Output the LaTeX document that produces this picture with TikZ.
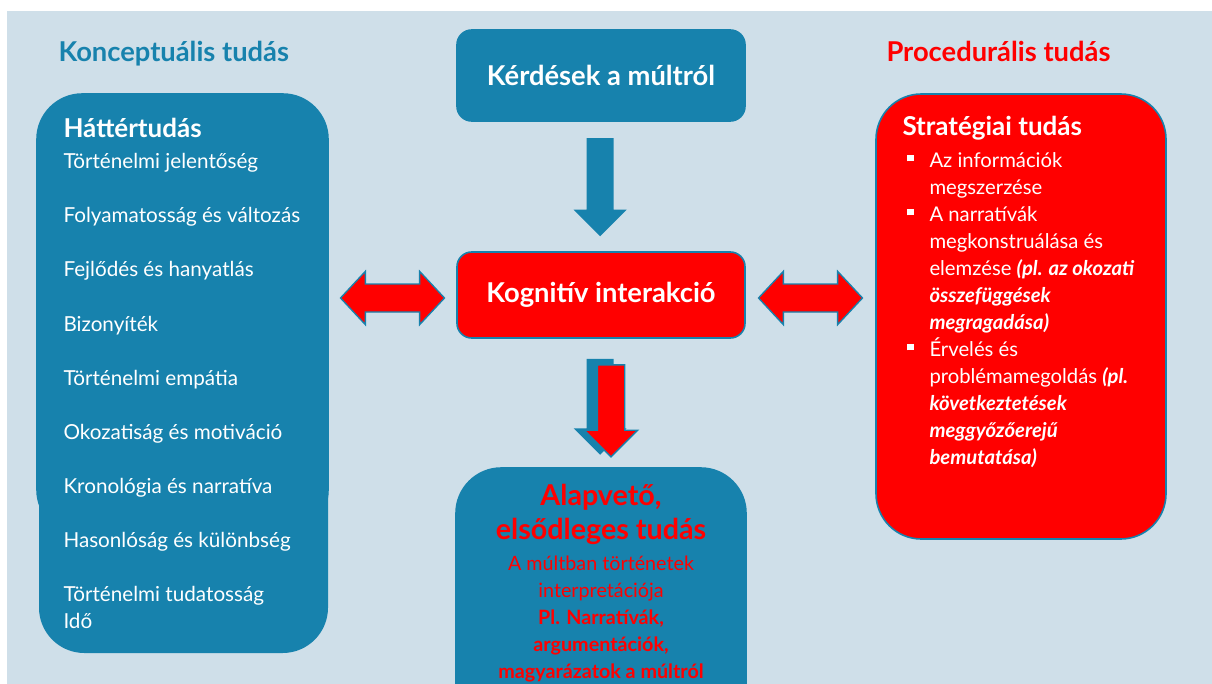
\documentclass[tikz,border=0pt]{standalone}
\usepackage{fontspec}
\setmainfont{Lato}
\usetikzlibrary{positioning,calc,shapes.arrows}
\definecolor{panelblue}{RGB}{207,223,233}
\definecolor{boxblue}{RGB}{23,130,173}
\definecolor{hotred}{RGB}{255,0,0}
\tikzset{every picture/.style={line width=0.75pt}}
\tikzset{
  txt/.style={inner sep=0pt, text=white},
  box/.style={inner sep=0pt, draw=boxblue, line width=1.2pt},
  blockdown/.style={single arrow, shape border rotate=270, inner sep=9.75pt,
    single arrow head extend=9.75pt, minimum width=1pt},
  blockboth/.style={double arrow, inner sep=10pt, double arrow head extend=9.5pt,
    double arrow tip angle=94, minimum width=1pt, fill=hotred, draw=boxblue, line width=1pt}
}
\newcommand{\blt}{\llap{\rule[4.5pt]{5pt}{5pt}\hspace{12pt}}}

\begin{document}
\begin{tikzpicture}[x=0.75pt,y=0.75pt,yscale=-1,xscale=1]
\useasboundingbox (0,0) rectangle (1212,684);
\clip (0,0) rectangle (1212,684);

%Shape: Rectangle [background]
\fill[white] (0,0) rectangle (1212,684);
\fill[panelblue] (7,11) rectangle (1212,684);

% Text Node
\node[txt, anchor=base west, text=boxblue, font=\bfseries\fontsize{20.5}{24}\selectfont] (konc) at (58,62) {Konceptuális tudás};
% Text Node
\node[txt, anchor=base west, text=hotred, font=\bfseries\fontsize{20.5}{24}\selectfont] (proc) at (886,62) {Procedurális tudás};

%Shape: Rounded Rect [left, lower part]
\fill[boxblue, rounded corners=34pt] (39,150) rectangle (328,653);
%Shape: Rounded Rect [left]
\node[box, fill=boxblue, rounded corners=34pt, minimum width=218.25pt, minimum height=330.75pt] (hatter) at (182.5,314.5) {};

%Shape: Rounded Rect [top]
\node[box, fill=boxblue, rounded corners=11pt, minimum width=216pt, minimum height=68.25pt] (kerdesek) at (601,75.5) {};
%Shape: Rounded Rect [middle]
\node[box, fill=hotred, rounded corners=11pt, minimum width=216pt, minimum height=64.5pt] (kognitiv) at (601,295) {};
%Shape: Rounded Rect [right]
\node[box, fill=hotred, rounded corners=34pt, minimum width=217.5pt, minimum height=333.75pt] (strat) at (1021,316.5) {};
%Shape: Rounded Rect [bottom]
\node[box, fill=boxblue, rounded corners=34pt, minimum width=217.5pt, minimum height=198pt] (alap) at (601,600) {};

%Block Arrows
\node[blockdown, fill=boxblue, minimum height=73.5pt] (le1) at ($(kerdesek.south)!0.5!(kognitiv.north)+(-1,-6)$) {};
\node[blockdown, fill=boxblue, minimum height=72pt] (le2) at ($(kognitiv.south)!0.5!(alap.north)+(-1,-3)$) {};
\node[blockdown, fill=hotred, draw=boxblue, line width=1pt, minimum height=69pt] (le3) at ($(le2)+(11,4)$) {};
\node[blockboth, minimum height=78pt] (bal) at ($(hatter.east |- kognitiv.west)!0.5!(kognitiv.west)+(0,3)$) {};
\node[blockboth, minimum height=78pt] (jobb) at ($(kognitiv.east)!0.5!(strat.west |- kognitiv.east)+(0,3)$) {};

% Text Node
\node[txt, font=\bfseries\fontsize{20.5}{24}\selectfont] at (kerdesek) {Kérdések a múltról};
% Text Node
\node[txt, font=\bfseries\fontsize{20.5}{24}\selectfont] at (kognitiv) {Kognitív interakció};

% Text Node
\node[txt, anchor=base west, font=\bfseries\fontsize{19.5}{23}\selectfont] (hattercim) at (63,138) {Háttértudás};
% Text Node
\node[txt, anchor=north west, align=left, font=\fontsize{15.5}{20.3}\selectfont] (hatterlista) at (63,153) {Történelmi jelentőség\\[20.3pt]
Folyamatosság és változás\\[20.3pt]
Fejlődés és hanyatlás\\[20.3pt]
Bizonyíték\\[20.3pt]
Történelmi empátia\\[20.3pt]
Okozatiság és motiváció\\[20.3pt]
Kronológia és narratíva\\[20.3pt]
Hasonlóság és különbség\\[20.3pt]
Történelmi tudatosság\\
Idő};

% Text Node
\node[txt, anchor=base west, font=\bfseries\fontsize{19.5}{23}\selectfont] (stratcim) at (902,136) {Stratégiai tudás};
% Text Node
\node[txt, anchor=north west, align=left, font=\fontsize{15.2}{20.25}\selectfont] (stratlista) at (929,152) {\blt Az információk\\
megszerzése\\
\blt A narratívák\\
megkonstruálása és\\
elemzése \textbf{\textit{(pl. az okozati}}\\
\textbf{\textit{összefüggések}}\\
\textbf{\textit{megragadása)}}\\
\blt Érvelés és\\
problémamegoldás \textbf{\textit{(pl.}}\\
\textbf{\textit{következtetések}}\\
\textbf{\textit{meggyőzőerejű}}\\
\textbf{\textit{bemutatása)}}};

% Text Node
\node[txt, anchor=north, align=center, text=hotred, font=\bfseries\fontsize{21.5}{25.5}\selectfont] (alapcim) at (601,484) {Alapvető,\\ elsődleges tudás};
% Text Node
\node[txt, anchor=north, align=center, text=hotred, font=\fontsize{14.8}{20.25}\selectfont] (alapszoveg) at (601,555) {A múltban történetek\\
interpretációja\\
\textbf{Pl. Narratívák,}\\
\textbf{argumentációk,}\\
\textbf{magyarázatok a múltról}};

\end{tikzpicture}
\end{document}
